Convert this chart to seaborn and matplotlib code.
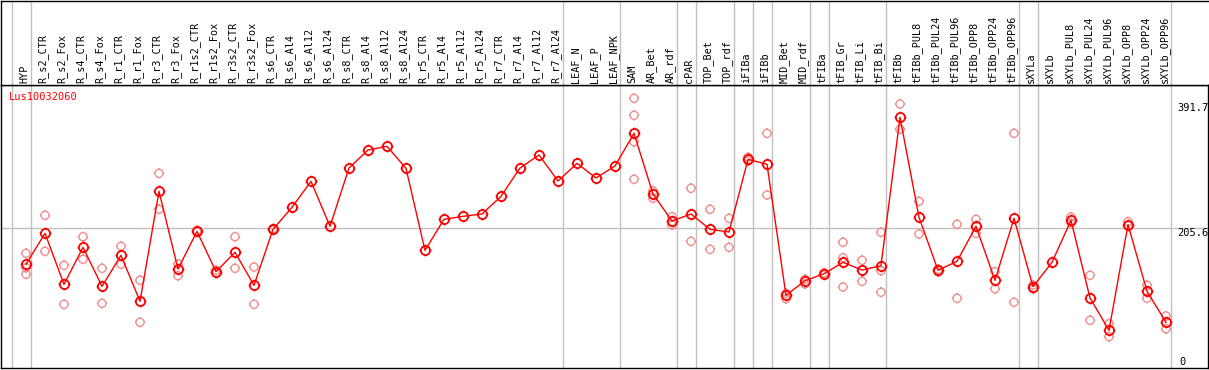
import numpy as np
import pandas as pd
import matplotlib
matplotlib.use("Agg")
import matplotlib.pyplot as plt
import seaborn as sns
from matplotlib.path import Path

nan = np.nan

categories = [
    "HYP", "R_s2_CTR", "R_s2_Fox", "R_s4_CTR", "R_s4_Fox", "R_r1_CTR", "R_r1_Fox",
    "R_r3_CTR", "R_r3_Fox", "R_r1s2_CTR", "R_r1s2_Fox", "R_r3s2_CTR", "R_r3s2_Fox",
    "R_s6_CTR", "R_s6_Al4", "R_s6_Al12", "R_s6_Al24", "R_s8_CTR", "R_s8_Al4",
    "R_s8_Al12", "R_s8_Al24", "R_r5_CTR", "R_r5_Al4", "R_r5_Al12", "R_r5_Al24",
    "R_r7_CTR", "R_r7_Al4", "R_r7_Al12", "R_r7_Al24", "LEAF_N", "LEAF_P", "LEAF_NPK",
    "SAM", "AR_Bet", "AR_rdf", "cPAR", "TOP_Bet", "TOP_rdf", "iFIBa", "iFIBb",
    "MID_Bet", "MID_rdf", "tFIBa", "tFIB_Gr", "tFIB_Li", "tFIB_Bi", "tFIBb",
    "tFIBb_PUL8", "tFIBb_PUL24", "tFIBb_PUL96", "tFIBb_OPP8", "tFIBb_OPP24",
    "tFIBb_OPP96", "sXYLa", "sXYLb", "sXYLb_PUL8", "sXYLb_PUL24", "sXYLb_PUL96",
    "sXYLb_OPP8", "sXYLb_OPP24", "sXYLb_OPP96",
]

mean_vals = [
    152.1, 198.1, 122.3, 177.3, 119.4, 165.4, 97.1, 260.5, 145.1, 201.0, 141.1,
    169.9, 120.9, 204.0, 236.7, 275.3, 208.5, 295.1, 321.8, 327.3, 294.6, 172.8,
    218.9, 223.3, 226.8, 253.0, 295.1, 314.4, 275.8, 302.0, 280.3, 298.1, 346.6,
    256.5, 216.4, 226.8, 204.0, 200.1, 308.0, 300.6, 106.0, 127.7, 138.1, 155.0,
    143.6, 150.0, 370.4, 221.9, 143.2, 156.5, 208.5, 128.3, 220.4, 118.8, 155.0,
    217.4, 102.0, 54.0, 211.0, 112.0, 65.9,
]

rep_a = [
    168.4, 224.8, 150.6, 193.1, 146.1, 178.8, 128.3, 287.2, 152.5, 202.0, 143.2,
    193.1, 148.1, 205.0, nan, nan, nan, nan, nan, nan, nan, nan, nan, nan, nan,
    nan, nan, nan, nan, nan, nan, nan, 398.6, 261.0, 222.8, 265.0, 233.8, 220.4,
    311.0, 346.6, 109.0, 129.8, 139.6, 184.8, 158.0, 199.6, 390.2, 245.6, 144.6,
    211.5, 218.9, 141.1, 346.6, 121.3, nan, 222.3, 135.7, 63.9, 215.4, 120.9, 75.3,
]

rep_b = [
    137.2, 171.3, 92.6, 159.5, 94.1, 152.1, 65.9, 233.8, 135.2, 200.0, 138.7,
    146.1, 92.6, 203.0, nan, nan, nan, nan, nan, nan, nan, nan, nan, nan, nan,
    nan, nan, nan, nan, nan, nan, nan, 278.3, 250.1, 210.5, 186.2, 174.3, 177.3,
    305.5, 255.0, 101.0, 122.8, 136.6, 118.4, 126.8, 110.5, 352.6, 197.1, 140.6,
    101.6, 198.1, 115.8, 95.6, 115.4, nan, 213.4, 68.9, 44.6, 209.4, 101.6, 56.4,
]

rep_c = [nan] * 61
rep_c[0] = 147.0     # HYP
rep_c[32] = 373.4    # SAM
rep_c[43] = 161.9    # tFIB_Gr
rep_c[45] = 142.6    # tFIB_Bi

rep_d = [nan] * 61
rep_d[32] = 334.2    # SAM

gene_name = "Lus10032060"
separators_after = [-1, 0, 28, 31, 34, 35, 37, 38, 39, 41, 42, 45, 52, 53, 60]
scale_labels = ["391.7", "205.6", "0"]
scale_vals = [391.7, 205.6, 0.0]

# ---------------------------------------------------------------- layout
W, H = 1209, 370
fig = plt.figure(figsize=(W / 100, H / 100), dpi=100)


def rect(l, t, r, b):
    return [l / W, 1 - b / H, (r - l) / W, (b - t) / H]


ax = fig.add_axes(rect(1, 85, 1208, 368))
lab = fig.add_axes(rect(1, 0.5, 1208, 85), sharex=ax)

pos = np.arange(len(categories))
ax.set_xlim((1 - 26) / 19, (1208 - 26) / 19)
ax.set_ylim((366.7 - 368) / 0.6733, (366.7 - 85) / 0.6733)
lab.set_ylim(0, 1)

mono = "DejaVu Sans Mono"
grid_c = "#c0c0c0"

# marker: circle with four short ticks
circ = Path.unit_circle()
tl = 1.28
ticks = [Path([(0, 1), (0, tl)]), Path([(0, -1), (0, -tl)]),
         Path([(1, 0), (tl, 0)]), Path([(-1, 0), (-tl, 0)])]
mk = Path.make_compound_path(circ, *ticks)

# separators and grid
for k in separators_after:
    xv = k + 5 / 19
    ax.axvline(xv, color=grid_c, lw=1, zorder=1)
    lab.axvline(xv, color=grid_c, lw=1, zorder=1)
ax.axhline(205.6, color=grid_c, lw=1, zorder=1)

# replicates
rows = []
for arr in (rep_a, rep_b, rep_c, rep_d):
    for i, v in enumerate(arr):
        if not np.isnan(v):
            rows.append((i, v))
reps = pd.DataFrame(rows, columns=["pos", "val"])
sns.scatterplot(data=reps, x="pos", y="val", ax=ax, marker=mk, s=55,
                facecolors="none", edgecolor="#ef9090", linewidth=1.0,
                zorder=2, legend=False)

# mean line
main = pd.DataFrame({"pos": pos, "val": mean_vals})
sns.lineplot(data=main, x="pos", y="val", ax=ax, color="red", lw=1,
             marker=mk, markersize=8.4, markerfacecolor="none",
             markeredgecolor="red", markeredgewidth=1.3, zorder=3,
             estimator=None, sort=False)

# labels
for i, c in enumerate(categories):
    lab.text(i - 0.1, 0.025, c, rotation=90, ha="center", va="bottom",
             fontsize=7.3, family=mono, color="black")

ax.text((9 - 26) / 19, 400.6, gene_name, color="red", fontsize=7.5,
        family=mono, ha="left", va="center")

xr = (1177 - 26) / 19
ax.text(xr, 391.7, scale_labels[0], fontsize=7.5, family=mono, ha="left", va="top")
ax.text(xr, 205.6, scale_labels[1], fontsize=7.5, family=mono, ha="left", va="top")
ax.text((1179 - 26) / 19, 7.0, scale_labels[2], fontsize=7.5, family=mono,
        ha="left", va="center")

for a in (ax, lab):
    a.set_xticks([])
    a.set_yticks([])
    a.set_xlabel("")
    a.set_ylabel("")
    for s in a.spines.values():
        s.set_color("black")
        s.set_linewidth(1.0)
lab.spines["right"].set_visible(False)
lab.set_facecolor("white")

fig.savefig("out.png", dpi=100, facecolor="white")
